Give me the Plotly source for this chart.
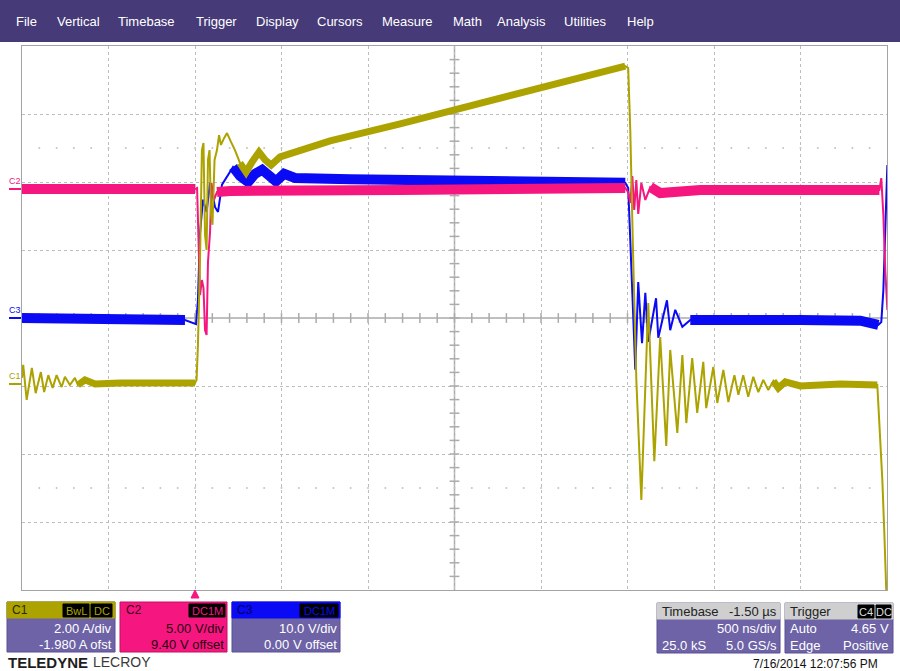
import numpy as np
import plotly.graph_objects as go

# time axis in microseconds (trigger at 0, 500 ns/div, 10 div)
C1_T = [-1.000, -0.993, -0.973, -0.943, -0.921, -0.891, -0.872, -0.848, -0.823, -0.800,
        -0.771, -0.752, -0.723, -0.694, -0.677, -0.636, -0.578, -0.434, 0.000,
        0.009, 0.017, 0.029, 0.040, 0.049, 0.058, 0.067, 0.075, 0.084, 0.093, 0.101,
        0.113, 0.127, 0.139, 0.150, 0.168, 0.185, 0.208, 0.231, 0.260, 0.295, 0.330,
        0.370, 0.405, 0.440, 0.492, 0.578, 0.781, 1.186, 1.475, 1.764, 2.053, 2.342, 2.487,
        2.504, 2.516, 2.533, 2.551, 2.580, 2.620, 2.655, 2.689, 2.724, 2.747, 2.788, 2.817,
        2.840, 2.874, 2.903, 2.938, 2.955, 2.996, 3.019, 3.054, 3.083, 3.118, 3.141, 3.169,
        3.198, 3.227, 3.256, 3.285, 3.314, 3.343, 3.372, 3.412, 3.499, 3.730, 3.944,
        3.955, 3.973, 3.984, 3.996]
C1_A = [0.22, 0.60, -0.43, 0.51, -0.23, 0.39, -0.20, 0.30, -0.08, 0.30,
        -0.05, 0.25, 0.01, 0.22, 0.01, 0.16, 0.04, 0.07, 0.07,
        0.16, 1.19, 3.69, 6.92, 7.13, 4.42, 3.98, 6.63, 6.92, 5.01, 4.72,
        6.63, 6.92, 7.36, 7.07, 7.27, 7.42, 7.16, 6.92, 6.54, 6.27, 6.57,
        6.86, 6.63, 6.48, 6.72, 6.86, 7.19, 7.69, 8.07, 8.45, 8.80, 9.19, 9.39,
        9.33, 7.51, 3.69, 0.16, -3.37, 2.42, -2.23, 1.42, -1.78, 1.04, -1.40, 0.89,
        -1.11, 0.80, -0.81, 0.69, -0.67, 0.54, -0.52, 0.45, -0.49, 0.30, -0.28, 0.30,
        -0.34, 0.25, -0.20, 0.16, -0.14, 0.13, -0.08, 0.10, -0.02, 0.04, 0.01,
        -1.02, -2.78, -4.26, -6.08]

C2_T = [-1.000, 0.000, 0.012, 0.023, 0.029, 0.040, 0.049, 0.058, 0.067, 0.075, 0.087,
        0.095, 0.110, 0.127, 0.202, 1.186, 2.487, 2.504, 2.516, 2.528, 2.539, 2.551,
        2.562, 2.580, 2.603, 2.632, 2.689, 2.921, 3.499, 3.956, 3.967, 3.979, 3.990, 4.002]
C2_V = [0.09, 0.09, 0.16, -4.40, -7.71, -6.61, -7.19, -10.28, -10.65, -5.28, -3.08,
        0.53, -0.72, -0.14, -0.06, 0.01, 0.16, -0.14, -0.94, 1.04, -1.46, 0.75,
        -1.75, 0.53, -0.72, 0.23, -0.21, 0.01, 0.01, 0.01, 0.89, -1.83, -5.87, -8.81]

C3_T = [-1.000, -0.260, -0.058, -0.012, 0.006, 0.017, 0.029, 0.046, 0.067, 0.087, 0.116,
        0.133, 0.156, 0.220, 0.260, 0.307, 0.347, 0.388, 0.434, 0.468, 0.515, 0.578,
        0.896, 1.475, 2.053, 2.487, 2.504, 2.516, 2.528, 2.545, 2.562, 2.584, 2.603,
        2.620, 2.665, 2.678, 2.728, 2.747, 2.776, 2.817, 2.863, 3.210, 3.499, 3.846,
        3.950, 3.967, 3.979, 3.990, 4.002]
C3_V = [0.0, 0.0, -0.3, -0.7, -0.9, 2.6, 12.5, 17.4, 15.6, 19.9, 16.3,
        15.6, 19.6, 22.2, 20.9, 20.0, 21.2, 21.8, 20.6, 20.1, 21.2, 20.6,
        20.4, 20.3, 20.0, 19.9, 19.1, 11.5, 2.6, -7.6, 5.3, -3.7, 3.7,
        -3.5, 2.9, -2.9, 2.6, -1.8, 1.2, -1.3, -0.3, -0.15, -0.3, -0.4,
        -1.0, -0.6, 4.1, 14.4, 22.5]

# vertical settings per channel: (units/div, offset)
C1_SCALE, C1_OFFSET = 2.0, -1.98
C2_SCALE, C2_OFFSET = 5.0, 9.40
C3_SCALE, C3_OFFSET = 10.0, 0.0

# time windows where the trace is a flat noisy band
C1_BANDS = [(-0.68, 0.0), (0.25, 2.49), (3.34, 3.95)]
C2_BANDS = [(-1.0, 0.0), (0.12, 2.49), (2.63, 3.96)]
C3_BANDS = [(-1.0, -0.05), (0.22, 2.49), (2.86, 3.95)]

MENU = ['File', 'Vertical', 'Timebase', 'Trigger', 'Display', 'Cursors',
        'Measure', 'Math', 'Analysis', 'Utilities', 'Help']

YELLOW = '#aca300'
PINK = '#f5177f'
BLUE = '#0a0af5'
BOXBODY = '#6d63a6'
FONT = 'Arial, Liberation Sans, sans-serif'

# plot area in page pixels
L, R, T, B = 22, 887, 46, 590


def px(x):
    return (x - L) / (R - L)


def py(y):
    return (B - y) / (B - T)


def to_div(values, scale, offset):
    return [(v + offset) / scale for v in values]


def band_traces(t, d, windows, color, width):
    t = np.array(t)
    d = np.array(d)
    traces = []
    for t0, t1 in windows:
        m = (t >= t0) & (t <= t1)
        traces.append(go.Scatter(x=t[m], y=d[m], mode='lines', hoverinfo='skip',
                                 line=dict(color=color, width=width)))
    return traces


fig = go.Figure()

# center cross tick marks and the +-2.5 div dot rows
tx = np.round(np.arange(-0.9, 4.0, 0.1), 3)
ty = np.round(np.arange(-3.8, 4.0, 0.2), 3)
fig.add_trace(go.Scatter(x=tx, y=[0] * len(tx), mode='markers', hoverinfo='skip',
                         marker=dict(symbol='line-ns', size=7, line=dict(color='#ababab', width=1.5))))
fig.add_trace(go.Scatter(x=[1.5] * len(ty), y=ty, mode='markers', hoverinfo='skip',
                         marker=dict(symbol='line-ew', size=7, line=dict(color='#ababab', width=1.5))))
for yy in (2.5, -2.5):
    fig.add_trace(go.Scatter(x=tx, y=[yy] * len(tx), mode='markers', hoverinfo='skip',
                             marker=dict(symbol='circle', size=2, color='#c4c4c4')))

channels = [
    (C3_T, to_div(C3_V, C3_SCALE, C3_OFFSET), C3_BANDS, BLUE, 10),
    (C2_T, to_div(C2_V, C2_SCALE, C2_OFFSET), C2_BANDS, PINK, 10),
    (C1_T, to_div(C1_A, C1_SCALE, C1_OFFSET), C1_BANDS, YELLOW, 7),
]
for t, d, bands, color, bw in channels:
    for tr in band_traces(t, d, bands, color, bw):
        fig.add_trace(tr)
    fig.add_trace(go.Scatter(x=t, y=d, mode='lines', hoverinfo='skip',
                             line=dict(color=color, width=2)))

shapes = []
# center cross
shapes.append(dict(type='line', xref='x', yref='y', x0=-1, x1=4, y0=0, y1=0,
                   line=dict(color='#ababab', width=1.5), layer='below'))
shapes.append(dict(type='line', xref='x', yref='y', x0=1.5, x1=1.5, y0=-4, y1=4,
                   line=dict(color='#ababab', width=1.5), layer='below'))

# menu bar
shapes.append(dict(type='rect', xref='paper', yref='paper', x0=px(0), x1=px(900),
                   y0=py(42), y1=py(0), fillcolor='#463a78', line=dict(width=0)))


def rect(x0, x1, y0, y1, color, line=None):
    shapes.append(dict(type='rect', xref='paper', yref='paper', x0=px(x0), x1=px(x1),
                       y0=py(y1), y1=py(y0), fillcolor=color,
                       line=dict(color=line or color, width=1)))


annotations = []


def label(x, y, text, color='white', size=13, anchor='left', weight='normal'):
    annotations.append(dict(x=px(x), y=py(y), xref='paper', yref='paper', text=text,
                            showarrow=False, xanchor=anchor, yanchor='middle',
                            font=dict(family=FONT, size=size, color=color, weight=weight)))


menu_x = [14, 55, 116, 194, 254, 315, 380, 451, 495, 562, 625]
for name, x in zip(MENU, menu_x):
    label(x, 22, name, 'white', 13)

# channel ground markers on the left
for name, color, ylab, yline in [('C2', PINK, 181, 189), ('C3', BLUE, 310, 318), ('C1', YELLOW, 376, 384)]:
    label(7, ylab, name, color, 9)
    shapes.append(dict(type='line', xref='paper', yref='paper', x0=px(9), x1=px(21),
                       y0=py(yline), y1=py(yline), line=dict(color=color, width=2)))

# trigger position marker
shapes.append(dict(type='path', xref='paper', yref='paper',
                   path='M %f %f L %f %f L %f %f Z' % (px(191), py(598), px(199), py(598), px(195), py(590)),
                   fillcolor=PINK, line=dict(color=PINK, width=1)))

# channel boxes
rect(7, 115, 602, 652, BOXBODY, '#5a5095')
rect(7, 115, 602, 618, YELLOW)
label(10, 610, 'C1', '#2a2a00', 12)
rect(63, 89, 604, 617, 'black')
rect(91, 112, 604, 617, 'black')
label(76, 610.5, 'BwL', YELLOW, 11, 'center')
label(101.5, 610.5, 'DC', YELLOW, 11, 'center')
label(114, 628, '2.00 A/div', 'white', 13, 'right')
label(114, 644, '-1.980 A ofst', 'white', 13, 'right')

rect(120, 227, 602, 652, PINK, '#c01060')
label(124, 610, 'C2', '#3a0018', 12)
rect(189, 225, 604, 617, 'black')
label(207, 610.5, 'DC1M', PINK, 11, 'center')
label(226, 628, '5.00 V/div', '#2a0012', 13, 'right')
label(226, 644, '9.40 V offset', '#2a0012', 13, 'right')

rect(232, 340, 602, 652, BOXBODY, '#5a5095')
rect(232, 340, 602, 618, BLUE)
label(235, 610, 'C3', '#000060', 12)
rect(300, 338, 604, 617, 'black')
label(319, 610.5, 'DC1M', BLUE, 11, 'center')
label(339, 628, '10.0 V/div', 'white', 13, 'right')
label(339, 644, '0.00 V offset', 'white', 13, 'right')

rect(657, 780, 603, 653, BOXBODY, '#5a5095')
rect(657, 780, 603, 619, '#cfcfcf')
label(660, 611, 'Timebase', '#222222', 13)
label(779, 611, '-1.50 \u00b5s', '#222222', 13, 'right')
label(779, 628, '500 ns/div', 'white', 13, 'right')
label(660, 645, '25.0 kS', 'white', 13)
label(779, 645, '5.0 GS/s', 'white', 13, 'right')

rect(785, 893, 603, 653, BOXBODY, '#5a5095')
rect(785, 893, 603, 619, '#cfcfcf')
label(788, 611, 'Trigger', '#222222', 13)
rect(858, 874, 605, 618, 'black')
rect(876, 891, 605, 618, 'black')
label(866, 611.5, 'C4', '#dddddd', 11, 'center')
label(883.5, 611.5, 'DC', '#dddddd', 11, 'center')
label(788, 628, 'Auto', 'white', 13)
label(891, 628, '4.65 V', 'white', 13, 'right')
label(788, 645, 'Edge', 'white', 13)
label(891, 645, 'Positive', 'white', 13, 'right')

label(6, 662, 'TELEDYNE', '#1e1e1e', 15, weight='bold')
label(91, 662, 'LECROY', '#3a3a3a', 14)
label(880, 664, '7/16/2014 12:07:56 PM', '#111111', 12, 'right')

axis = dict(showgrid=True, gridcolor='#bdbdbd', griddash='dot', gridwidth=1,
            showticklabels=False, ticks='', zeroline=False, showline=True,
            linecolor='#a4a4a4', linewidth=1, mirror=True, fixedrange=True)

fig.update_layout(
    width=900, height=671, autosize=False,
    margin=dict(l=L, r=900 - R, t=T, b=671 - B, pad=0),
    paper_bgcolor='white', plot_bgcolor='white',
    showlegend=False,
    xaxis=dict(axis, range=[-1, 4], dtick=0.5, tick0=-1),
    yaxis=dict(axis, range=[-4, 4], dtick=1, tick0=-4),
    shapes=shapes,
    annotations=annotations,
)

# the page body has a default 8px margin; drop it so the figure fills the window
fig.write_html('out.html', config=dict(displayModeBar=False),
               post_script="document.body.style.margin='0';document.body.style.overflow='hidden';")
